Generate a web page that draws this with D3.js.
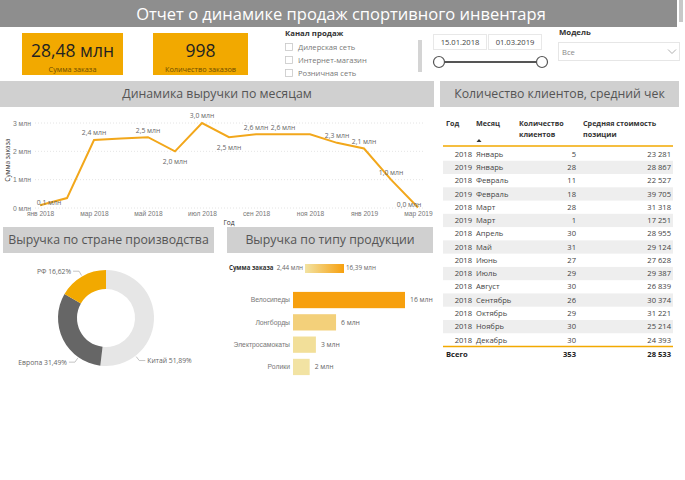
<!DOCTYPE html>
<html>
<head>
<meta charset="utf-8">
<script src="https://cdn.jsdelivr.net/npm/d3@7"></script>
<style>
  body { margin: 0; background: #fff; }
  svg { font-family: "Open Sans", "Noto Sans", sans-serif; display: block; }
</style>
</head>
<body>
<div id="vis"></div>
<script>
const WIDTH = 685;
const HEIGHT = 480;

// kpi
const kpiLabels = ["Сумма заказа", "Количество заказов"];
const kpiValues = ["28,48 млн", "998"];

// filters
const channels = ["Дилерская сеть", "Интернет-магазин", "Розничная сеть"];
const dateRange = ["15.01.2018", "01.03.2019"];

// line chart
const months = ["янв 2018", "фев 2018", "мар 2018", "апр 2018", "май 2018", "июн 2018", "июл 2018",
                "авг 2018", "сен 2018", "окт 2018", "ноя 2018", "дек 2018", "янв 2019", "фев 2019", "мар 2019"];
const revenue = [0.1, 0.35, 2.4, 2.45, 2.5, 2.0, 3.0, 2.5, 2.6, 2.6, 2.6, 2.3, 2.1, 1.0, 0.02];
const labelledMonths = [0, 2, 4, 5, 6, 7, 8, 9, 11, 12, 13, 14];
const yTicks = [0, 1, 2, 3];

// table
const tblYears = [2018, 2019, 2018, 2019, 2018, 2019, 2018, 2018, 2018, 2018, 2018, 2018, 2018, 2018, 2018];
const tblMonths = ["Январь", "Январь", "Февраль", "Февраль", "Март", "Март", "Апрель", "Май", "Июнь",
                   "Июль", "Август", "Сентябрь", "Октябрь", "Ноябрь", "Декабрь"];
const tblClients = [5, 28, 11, 18, 28, 1, 30, 31, 27, 29, 30, 26, 29, 30, 30];
const tblAvg = [23281, 28867, 22527, 39705, 31318, 17251, 28955, 29124, 27628, 29387, 26839, 30374, 31221, 25214, 24393];
const tblAvgTotal = 28533;

// donut
const countries = ["Китай", "Европа", "РФ"];
const countryShare = [51.89, 31.49, 16.62];

// bars
const products = ["Велосипеды", "Лонгборды", "Электросамокаты", "Ролики"];
const productRevenue = [16.39, 6.3, 3.35, 2.44];

const ORANGE = "#F2A900";
const LINE = "#F2A71B";
const HEAD = "#D0D0D0";

const ru = d3.formatLocale({decimal: ",", thousands: "\u00a0", grouping: [3], currency: ["", " ₽"]});
const f1 = ru.format(".1f");
const f2 = ru.format(".2f");
const fInt = ru.format(",d");

const svg = d3.select("#vis").append("svg")
  .attr("width", WIDTH).attr("height", HEIGHT);

// ---- top header
svg.append("rect").attr("x", 0).attr("y", 0).attr("width", 677).attr("height", 27).attr("fill", "#8e8e8e");
svg.append("rect").attr("x", 679).attr("y", 0).attr("width", 4).attr("height", 22).attr("fill", "#c8c8c8");
svg.append("text").attr("x", 341).attr("y", 14).attr("dy", "0.35em")
  .attr("text-anchor", "middle").attr("fill", "#fff").attr("font-size", 16.5)
  .text("Отчет о динамике продаж спортивного инвентаря");

// ---- kpi cards
const kpiX = d3.scaleOrdinal().domain(kpiLabels).range([22, 153]);
const kpiW = d3.scaleOrdinal().domain(kpiLabels).range([101, 95]);
kpiLabels.forEach((lab, i) => {
  const g = svg.append("g").attr("transform", `translate(${kpiX(lab)},33)`);
  g.append("rect").attr("width", kpiW(lab)).attr("height", 42).attr("fill", ORANGE);
  g.append("text").attr("x", kpiW(lab) / 2).attr("y", 18).attr("dy", "0.35em")
    .attr("text-anchor", "middle").attr("font-size", 17.5).attr("fill", "#222").text(kpiValues[i]);
  g.append("text").attr("x", kpiW(lab) / 2).attr("y", 36).attr("dy", "0.35em")
    .attr("text-anchor", "middle").attr("font-size", 7.3).attr("fill", "#6e4d00").text(lab);
});

// ---- channel slicer
svg.append("text").attr("x", 285).attr("y", 33).attr("dy", "0.35em")
  .attr("font-size", 7.8).attr("font-weight", "bold").attr("fill", "#333").text("Канал продаж");
const chY = d3.scalePoint().domain(channels).range([47, 73]);
channels.forEach(c => {
  svg.append("rect").attr("x", 285.5).attr("y", chY(c) - 3.5).attr("width", 7).attr("height", 7)
    .attr("fill", "#fff").attr("stroke", "#c8c8c8").attr("stroke-width", 0.8);
  svg.append("text").attr("x", 298).attr("y", chY(c)).attr("dy", "0.35em")
    .attr("font-size", 7.6).attr("fill", "#777").text(c);
});
svg.append("rect").attr("x", 418).attr("y", 40).attr("width", 4).attr("height", 32).attr("fill", "#d4d4d4");

// ---- date slicer
const dateX = [433, 488];
dateRange.forEach((d, i) => {
  svg.append("rect").attr("x", dateX[i] + 0.5).attr("y", 34.5).attr("width", 53).attr("height", 15)
    .attr("fill", "#fff").attr("stroke", "#e8e8e8");
  svg.append("text").attr("x", dateX[i] + 27).attr("y", 42).attr("dy", "0.35em")
    .attr("text-anchor", "middle").attr("font-size", 7.6).attr("fill", "#444").text(d);
});
svg.append("line").attr("x1", 439).attr("x2", 542).attr("y1", 62).attr("y2", 62)
  .attr("stroke", "#555").attr("stroke-width", 2);
[439, 542].forEach(cx => {
  svg.append("circle").attr("cx", cx).attr("cy", 62).attr("r", 5.5)
    .attr("fill", "#fff").attr("stroke", "#555").attr("stroke-width", 1.2);
});

// ---- model dropdown
svg.append("text").attr("x", 559).attr("y", 32).attr("dy", "0.35em")
  .attr("font-size", 7.8).attr("font-weight", "bold").attr("fill", "#333").text("Модель");
svg.append("rect").attr("x", 558.5).attr("y", 42.5).attr("width", 121).attr("height", 18)
  .attr("fill", "#fff").attr("stroke", "#e6e6e6");
svg.append("text").attr("x", 562).attr("y", 52).attr("dy", "0.35em")
  .attr("font-size", 7.6).attr("fill", "#888").text("Все");
svg.append("path").attr("d", "M668,49.5 L672,53.5 L676,49.5").attr("fill", "none")
  .attr("stroke", "#999").attr("stroke-width", 0.8);

// ---- section headers
function header(x, y, w, h, title) {
  svg.append("rect").attr("x", x).attr("y", y).attr("width", w).attr("height", h).attr("fill", HEAD);
  svg.append("text").attr("x", x + w / 2).attr("y", y + h / 2).attr("dy", "0.35em")
    .attr("text-anchor", "middle").attr("font-size", 12.3).attr("fill", "#555").text(title);
}

// ---- line chart
const X = d3.scalePoint().domain(months).range([40, 418]);
const Y = d3.scaleLinear().domain([0, 3]).range([208, 123]);

svg.append("g").selectAll("line").data(yTicks).join("line")
  .attr("x1", 35).attr("x2", 425).attr("y1", d => Y(d)).attr("y2", d => Y(d))
  .attr("stroke", "#ddd").attr("stroke-width", 0.8).attr("stroke-dasharray", "1,2");

const yAxis = svg.append("g").attr("transform", "translate(31,0)")
  .call(d3.axisLeft(Y).tickValues(yTicks).tickSize(0).tickPadding(0).tickFormat(d => d + " млн"));
yAxis.select(".domain").remove();
yAxis.selectAll("text").attr("font-size", 6.8).attr("fill", "#777").attr("font-family", null);

const xAxis = svg.append("g").attr("transform", "translate(0,210)")
  .call(d3.axisBottom(X).tickValues(months.filter((m, i) => i % 2 === 0)).tickSize(0).tickPadding(1));
xAxis.select(".domain").remove();
xAxis.selectAll("text").attr("font-size", 6.6).attr("fill", "#777").attr("font-family", null);

svg.append("text").attr("transform", "translate(8,160) rotate(-90)").attr("text-anchor", "middle")
  .attr("dy", "0.35em").attr("font-size", 6.6).attr("fill", "#333").text("Сумма заказа");
svg.append("text").attr("x", 229).attr("y", 223).attr("text-anchor", "middle")
  .attr("dy", "0.35em").attr("font-size", 6.6).attr("fill", "#333").text("Год");

svg.append("path").datum(revenue)
  .attr("d", d3.line().x((d, i) => X(months[i])).y(d => Y(d)))
  .attr("fill", "none").attr("stroke", LINE).attr("stroke-width", 2);

svg.append("g").selectAll("text").data(labelledMonths).join("text")
  .attr("x", i => Math.max(49, Math.min(409, X(months[i]))))
  .attr("y", i => {
    const v = revenue[i];
    if (i === 0 || i === months.length - 1) return Y(v) - 3;
    const isMin = v < revenue[i - 1] && v < revenue[i + 1];
    return isMin ? Y(v) + 10 : Y(v) - 7;
  })
  .attr("dy", "0.35em").attr("text-anchor", "middle")
  .attr("font-size", 6.8).attr("fill", "#666")
  .text(i => f1(revenue[i]) + " млн");

header(0, 81, 434, 26, "Динамика выручки по месяцам");

// ---- table
header(440, 81, 239, 26, "Количество клиентов, средний чек");

const colX = {year: 472, month: 476, clients: 576, avg: 671};
const th = svg.append("g").attr("font-size", 7.2).attr("font-weight", "bold").attr("fill", "#333");
th.append("text").attr("x", 446).attr("y", 123).attr("dy", "0.35em").text("Год");
th.append("text").attr("x", 476).attr("y", 123).attr("dy", "0.35em").text("Месяц");
th.append("text").attr("x", 519).attr("y", 123).attr("dy", "0.35em").text("Количество");
th.append("text").attr("x", 519).attr("y", 134).attr("dy", "0.35em").text("клиентов");
th.append("text").attr("x", 583).attr("y", 123).attr("dy", "0.35em").text("Средняя стоимость");
th.append("text").attr("x", 583).attr("y", 134).attr("dy", "0.35em").text("позиции");
svg.append("path").attr("d", "M476.5,142 L479,139 L481.5,142 Z").attr("fill", "#333");

const R = d3.scaleBand().domain(d3.range(tblMonths.length)).range([147.5, 346.5]);
svg.append("g").selectAll("rect").data(d3.range(tblMonths.length).filter(i => i % 2 === 1)).join("rect")
  .attr("x", 443).attr("width", 230).attr("y", i => R(i)).attr("height", R.bandwidth())
  .attr("fill", "#eeeeee");

const rows = svg.append("g").attr("font-size", 7.6).attr("fill", "#444");
tblMonths.forEach((m, i) => {
  const cy = R(i) + R.bandwidth() / 2;
  rows.append("text").attr("x", colX.year).attr("y", cy).attr("dy", "0.35em").attr("text-anchor", "end").text(tblYears[i]);
  rows.append("text").attr("x", colX.month).attr("y", cy).attr("dy", "0.35em").text(m);
  rows.append("text").attr("x", colX.clients).attr("y", cy).attr("dy", "0.35em").attr("text-anchor", "end").text(tblClients[i]);
  rows.append("text").attr("x", colX.avg).attr("y", cy).attr("dy", "0.35em").attr("text-anchor", "end").text(fInt(tblAvg[i]));
});
svg.append("line").attr("x1", 443).attr("x2", 673).attr("y1", 146).attr("y2", 146).attr("stroke", ORANGE).attr("stroke-width", 1.5);
svg.append("line").attr("x1", 443).attr("x2", 673).attr("y1", 346.5).attr("y2", 346.5).attr("stroke", ORANGE).attr("stroke-width", 1.5);
const tot = svg.append("g").attr("font-size", 7.6).attr("font-weight", "bold").attr("fill", "#222");
tot.append("text").attr("x", 446).attr("y", 354).attr("dy", "0.35em").text("Всего");
tot.append("text").attr("x", colX.clients).attr("y", 354).attr("dy", "0.35em").attr("text-anchor", "end").text(d3.sum(tblClients));
tot.append("text").attr("x", colX.avg).attr("y", 354).attr("dy", "0.35em").attr("text-anchor", "end").text(fInt(tblAvgTotal));

// ---- donut
header(3, 227, 211, 26, "Выручка по стране производства");
const cx = 106, cy = 318, rOut = 48, rIn = 29;
const pie = d3.pie().sort(null).value(d => d)(countryShare);
const pieColor = d3.scaleOrdinal().domain(countries).range(["#e6e6e6", "#666666", ORANGE]);
const arc = d3.arc().innerRadius(rIn).outerRadius(rOut);
const dg = svg.append("g").attr("transform", `translate(${cx},${cy})`);
dg.selectAll("path").data(pie).join("path").attr("d", arc).attr("fill", (d, i) => pieColor(countries[i]));

const labelAt = [0.76, 0.25, 0.5];
pie.forEach((p, i) => {
  const a = p.startAngle + labelAt[i] * (p.endAngle - p.startAngle);
  const s = Math.sin(a), c = -Math.cos(a);
  const x1 = s * (rOut + 1), y1 = c * (rOut + 1);
  const x2 = s * (rOut + 6), y2 = c * (rOut + 6);
  const dir = s >= 0 ? 1 : -1;
  const x3 = x2 + dir * 6;
  dg.append("polyline").attr("points", `${x1},${y1} ${x2},${y2} ${x3},${y2}`)
    .attr("fill", "none").attr("stroke", "#aaa").attr("stroke-width", 0.7);
  dg.append("text").attr("x", x3 + dir * 2).attr("y", y2).attr("dy", "0.35em")
    .attr("text-anchor", dir > 0 ? "start" : "end").attr("font-size", 6.8).attr("fill", "#666")
    .text(countries[i] + " " + f2(countryShare[i]) + "%");
});

// ---- bars
header(227, 227, 206, 26, "Выручка по типу продукции");
const bx = d3.scaleLinear().domain([0, d3.max(productRevenue)]).range([293, 405]);
const by = d3.scaleBand().domain(products).range([289, 378]).paddingInner(0.27).paddingOuter(0.13);
const bColor = d3.scaleLinear().domain(d3.extent(productRevenue)).range(["#F2E3A3", "#F7A00E"]);

const lg = svg.append("g");
lg.append("text").attr("x", 229).attr("y", 268).attr("dy", "0.35em")
  .attr("font-size", 6.1).attr("font-weight", "bold").attr("fill", "#333").text("Сумма заказа");
lg.append("text").attr("x", 303).attr("y", 268).attr("dy", "0.35em").attr("text-anchor", "end")
  .attr("font-size", 6.3).attr("fill", "#666").text(f2(d3.min(productRevenue)) + " млн");
const grad = svg.append("defs").append("linearGradient").attr("id", "lgGrad");
grad.append("stop").attr("offset", "0%").attr("stop-color", bColor(d3.min(productRevenue)));
grad.append("stop").attr("offset", "100%").attr("stop-color", bColor(d3.max(productRevenue)));
lg.append("rect").attr("x", 305).attr("y", 264).attr("width", 39).attr("height", 9).attr("fill", "url(#lgGrad)");
lg.append("text").attr("x", 346).attr("y", 268).attr("dy", "0.35em")
  .attr("font-size", 6.3).attr("fill", "#666").text(f2(d3.max(productRevenue)) + " млн");

svg.append("g").selectAll("rect").data(productRevenue).join("rect")
  .attr("x", bx(0)).attr("y", (d, i) => by(products[i]))
  .attr("width", d => bx(d) - bx(0)).attr("height", by.bandwidth())
  .attr("fill", d => bColor(d));
svg.append("g").selectAll("text").data(productRevenue).join("text")
  .attr("x", d => bx(d) + 5).attr("y", (d, i) => by(products[i]) + by.bandwidth() / 2)
  .attr("dy", "0.35em").attr("font-size", 6.8).attr("fill", "#666")
  .text(d => Math.round(d) + " млн");
const byAxis = svg.append("g").attr("transform", "translate(290,0)")
  .call(d3.axisLeft(by).tickSize(0).tickPadding(0));
byAxis.select(".domain").remove();
byAxis.selectAll("text").attr("font-size", 6.8).attr("fill", "#777").attr("font-family", null);
</script>
</body>
</html>
